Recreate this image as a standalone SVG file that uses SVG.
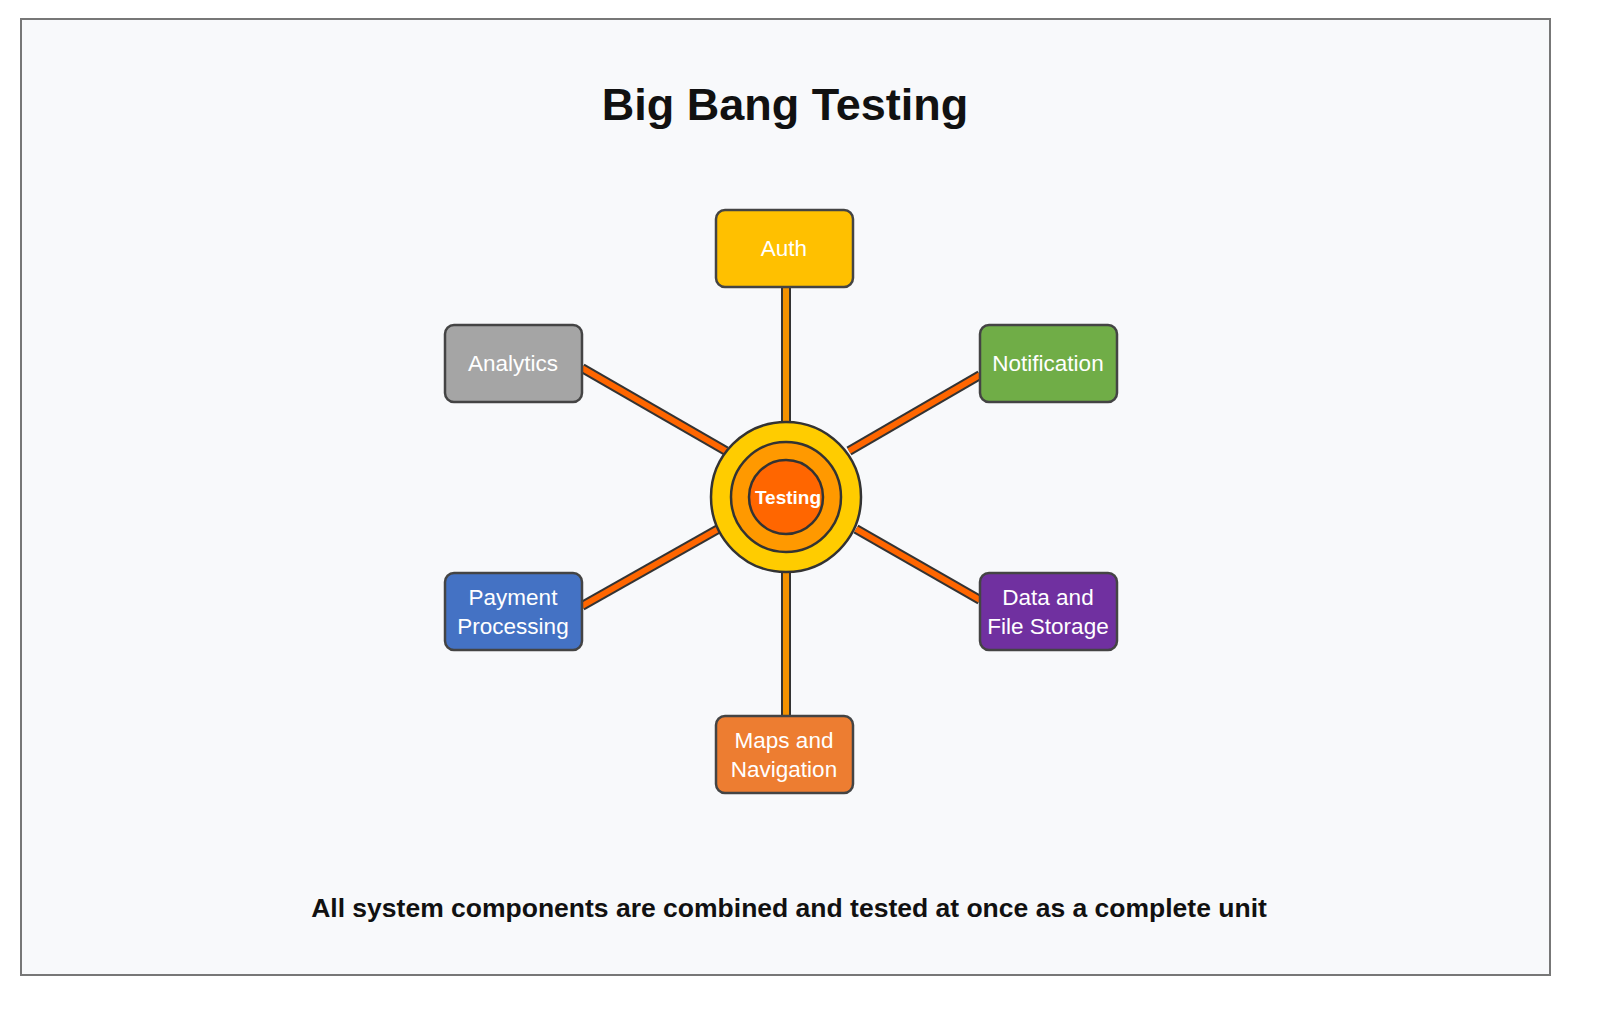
<svg xmlns="http://www.w3.org/2000/svg" width="1600" height="1015" viewBox="0 0 1600 1015">
<style>
text{font-family:"Liberation Sans",Arial,sans-serif}
.lbl{fill:#fff;font-size:22.5px;text-anchor:middle}
.box{stroke:#444;stroke-width:2.5}
.out{stroke:#333;stroke-width:10}
.v{stroke:#f39200;stroke-width:6}
.d{stroke:#ff6600;stroke-width:6}
</style>
<rect x="0" y="0" width="1600" height="1015" fill="#fff"/>
<rect x="21" y="19" width="1529" height="956" fill="#f8f9fb" stroke="#777" stroke-width="2"/>
<text x="785" y="120" font-size="45" font-weight="bold" text-anchor="middle" fill="#111">Big Bang Testing</text>
<g id="connectors">
<line class="out" x1="786" y1="287" x2="786" y2="421"/><line class="v" x1="786" y1="287" x2="786" y2="421"/>
<line class="out" x1="786" y1="573" x2="786" y2="716"/><line class="v" x1="786" y1="573" x2="786" y2="716"/>
<line class="out" x1="582" y1="368" x2="726" y2="451"/><line class="d" x1="582" y1="368" x2="726" y2="451"/>
<line class="out" x1="980" y1="375" x2="849" y2="451"/><line class="d" x1="980" y1="375" x2="849" y2="451"/>
<line class="out" x1="582" y1="606" x2="720" y2="528"/><line class="d" x1="582" y1="606" x2="720" y2="528"/>
<line class="out" x1="980" y1="600" x2="856" y2="529"/><line class="d" x1="980" y1="600" x2="856" y2="529"/>
</g>
<g id="testing">
<circle cx="786" cy="497" r="75" fill="#ffcc00" stroke="#333" stroke-width="2.5"/>
<circle cx="786" cy="497" r="55" fill="#ff9900" stroke="#333" stroke-width="2.5"/>
<circle cx="786" cy="497" r="37" fill="#ff6600" stroke="#333" stroke-width="2.5"/>
<text x="788" y="504" font-size="19" font-weight="bold" fill="#fff" text-anchor="middle">Testing</text>
</g>
<g id="auth"><rect class="box" x="716" y="210" width="137" height="77" rx="9" fill="#ffc000"/><text class="lbl" x="784" y="256">Auth</text></g>
<g id="analytics"><rect class="box" x="445" y="325" width="137" height="77" rx="9" fill="#a5a5a5"/><text class="lbl" x="513" y="371">Analytics</text></g>
<g id="notification"><rect class="box" x="980" y="325" width="137" height="77" rx="9" fill="#70ad47"/><text class="lbl" x="1048" y="371">Notification</text></g>
<g id="payment"><rect class="box" x="445" y="573" width="137" height="77" rx="9" fill="#4472c4"/><text class="lbl" x="513" y="605">Payment</text><text class="lbl" x="513" y="634">Processing</text></g>
<g id="data"><rect class="box" x="980" y="573" width="137" height="77" rx="9" fill="#7030a0"/><text class="lbl" x="1048" y="605">Data and</text><text class="lbl" x="1048" y="634">File Storage</text></g>
<g id="maps"><rect class="box" x="716" y="716" width="137" height="77" rx="9" fill="#ed7d31"/><text class="lbl" x="784" y="748">Maps and</text><text class="lbl" x="784" y="777">Navigation</text></g>
<text x="789" y="917" font-size="26.5" font-weight="bold" text-anchor="middle" fill="#111">All system components are combined and tested at once as a complete unit</text>
</svg>
